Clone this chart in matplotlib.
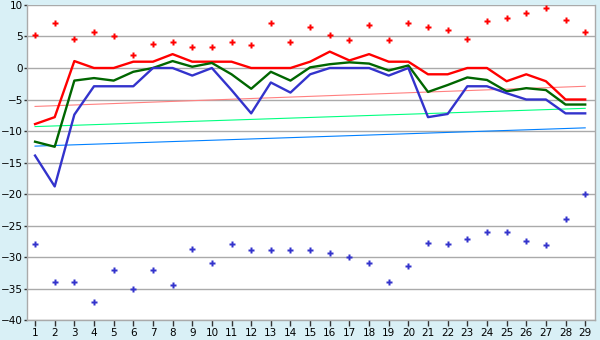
import numpy as np
import matplotlib
matplotlib.use("Agg")
import matplotlib.pyplot as plt

days = list(range(1, 30))

max_pts = [5.2, 7.1, 4.6, 5.7, 5.1, 2.1, 3.8, 4.1, 3.3, 3.3,
           4.1, 3.6, 7.1, 4.1, 6.5, 5.2, 4.4, 6.8, 4.4, 7.1,
           6.5, 6.0, 4.6, 7.4, 7.9, 8.7, 9.5, 7.6, 5.7]
min_pts = [-28.0, -33.9, -33.9, -37.2, -32.1, -35.0, -32.1, -34.5, -28.8, -31.0,
           -28.0, -28.9, -28.9, -28.9, -28.9, -29.3, -30.0, -31.0, -33.9, -31.5,
           -27.8, -28.0, -27.2, -26.1, -26.1, -27.5, -28.1, -23.9, -20.0]
upper = [-8.9, -7.8, 1.1, 0.0, 0.0, 1.0, 1.0, 2.2, 1.0, 1.0,
         1.0, 0.0, 0.0, 0.0, 1.0, 2.6, 1.2, 2.2, 1.0, 1.0,
         -1.0, -1.0, 0.0, 0.0, -2.1, -1.0, -2.1, -5.0, -5.0]
mean = [-11.7, -12.5, -2.0, -1.6, -2.0, -0.6, 0.0, 1.1, 0.2, 0.8,
        -1.0, -3.3, -0.6, -2.0, 0.1, 0.6, 0.9, 0.7, -0.4, 0.4,
        -3.8, -2.7, -1.5, -1.9, -3.7, -3.2, -3.5, -5.8, -5.8]
lower = [-13.9, -18.8, -7.4, -2.9, -2.9, -2.9, 0.0, 0.0, -1.2, 0.0,
         -3.5, -7.2, -2.3, -3.9, -1.0, 0.0, 0.0, 0.0, -1.2, 0.0,
         -7.8, -7.3, -2.9, -2.9, -4.0, -5.0, -5.0, -7.2, -7.2]

# trend lines: value at day 1 and day 29
trend_upper = [-6.1, -2.9]
trend_mean = [-9.3, -6.4]
trend_lower = [-12.4, -9.5]

bg = "#d9f0f6"
fig = plt.figure(figsize=(6, 3.4), dpi=100, facecolor=bg)
ax = fig.add_axes([0.045, 0.0588, 0.9467, 0.9265])
ax.set_facecolor("white")

ends = [days[0], days[-1]]
ax.plot(ends, trend_upper, color="#ff8080", lw=0.8, zorder=2)
ax.plot(ends, trend_mean, color="#00ff80", lw=0.8, zorder=2)
ax.plot(ends, trend_lower, color="#0080ff", lw=0.8, zorder=2)

ax.plot(days, upper, color="#ff0000", lw=1.7, zorder=3)
ax.plot(days, mean, color="#006600", lw=1.7, zorder=3)
ax.plot(days, lower, color="#3333cc", lw=1.7, zorder=3)

ax.plot(days, max_pts, ls="none", marker="P", ms=4.5, color="#ff0000",
        mec="none", zorder=4)
ax.plot(days, min_pts, ls="none", marker="P", ms=4.5, color="#3333cc",
        mec="none", zorder=4)

ax.set_xlim(0.59, 29.5)
ax.set_ylim(-40, 10)
ax.set_xticks(days)
ax.set_yticks(np.arange(-40, 11, 5))
ax.grid(axis="y", color="#aaaaaa", lw=1.0, zorder=1)
ax.set_axisbelow(True)

for side in ["left", "bottom", "right"]:
    ax.spines[side].set_color("#aaaaaa")
    ax.spines[side].set_linewidth(1.0)
ax.spines["top"].set_visible(False)

ax.tick_params(axis="both", colors="#333333", labelsize=7.5, width=1.0,
               labelcolor="black")
ax.tick_params(axis="x", length=4, pad=2)
ax.tick_params(axis="y", length=2, pad=1)

fig.savefig("out.png", dpi=100, facecolor=bg)
